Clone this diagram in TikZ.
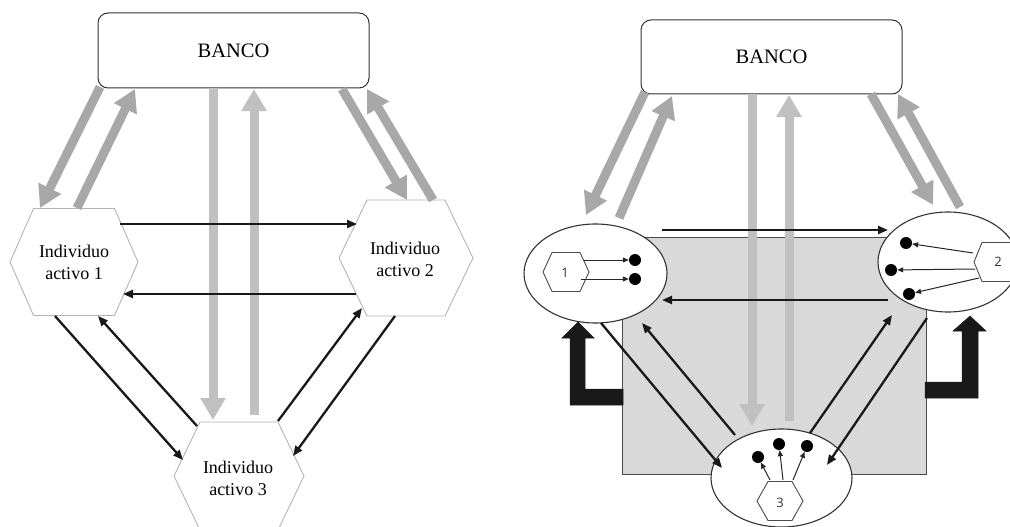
\documentclass[tikz,border=0pt]{standalone}
\usepackage{fontspec}
\setmainfont{Liberation Serif}
\newfontfamily\numfont{Open Sans}
\usetikzlibrary{arrows.meta,shapes.geometric}
\definecolor{gD}{HTML}{A8A8A8}
\definecolor{gL}{HTML}{C0C0C0}
\definecolor{rectfill}{HTML}{D9D9D9}
\definecolor{hexgray}{HTML}{B4B4B4}
\definecolor{edge}{HTML}{333333}
\newcommand\hexshape[6]{\draw[#6] (#1,#2) +(-#3,0) -- +(-#4,-#5) -- +(#4,-#5) -- +(#3,0) -- +(#4,#5) -- +(-#4,#5) -- cycle;}
\begin{document}
\begin{tikzpicture}[x=1pt,y=-1pt,
  gdark/.style={line width=9pt,draw=gD,-{Triangle[length=22pt,width=24pt]}},
  glight/.style={line width=9pt,draw=gL,-{Triangle[length=22pt,width=24pt]}},
  barrow/.style={line width=2.3pt,draw=black!90,-{Triangle[length=10pt,width=8pt]}},
  sarrow/.style={line width=1pt,draw=black!85,-{Triangle[length=6pt,width=5pt]}},
  bankbox/.style={draw=edge,line width=1pt,rounded corners=10pt,fill=white,font=\fontsize{20.5}{24}\selectfont},
  hexlabel/.style={inner sep=0pt,align=center,font=\fontsize{18}{22}\selectfont},
  bighex/.style={draw=hexgray,line width=0.9pt,fill=white},
  smallhex/.style={draw=black!70,line width=0.9pt,fill=white},
  oval/.style={ellipse,draw=edge,line width=1.1pt,fill=white,inner sep=0pt},
  dot/.style={circle,fill=black,inner sep=0pt,minimum size=12pt},
  numlabel/.style={inner sep=0pt,font=\numfont\fontsize{13}{15}\selectfont,text=black!80},
  bigL/.style={fill=black!90,draw=black!90,line width=0.5pt}]
\useasboundingbox (0,0) rectangle (1010,527);
\fill[white] (0,0) rectangle (1010,527);

% ================= LEFT DIAGRAM =================
\node[bankbox,minimum width=271pt,minimum height=75pt] (banL) at (233.5,50.5) {BANCO};
\hexshape{74}{262}{64}{40.5}{53.5}{bighex}
\hexshape{406}{258}{67}{39}{58}{bighex}
\hexshape{239}{476}{65}{39}{54}{bighex}
\node[hexlabel] (h1) at (74,262.5) {Individuo\\activo 1};
\node[hexlabel] (h2) at (405,259.5) {Individuo\\activo 2};
\node[hexlabel] (h3) at (238,478) {Individuo\\activo 3};

% gray flows with the bank
\coordinate (la1) at (100,87);  \coordinate (la2) at (40,208);
\coordinate (lb1) at (77,208);  \coordinate (lb2) at (135,89);
\coordinate (lc1) at (213,88);  \coordinate (lc2) at (213,420);
\coordinate (ld1) at (254,415); \coordinate (ld2) at (254,89);
\coordinate (le1) at (342,89);  \coordinate (le2) at (407,200);
\coordinate (lf1) at (433,200); \coordinate (lf2) at (367,89);
\draw[gdark] (la1) -- (la2);
\draw[gdark] (lb1) -- (lb2);
\draw[glight] (lc1) -- (lc2);
\draw[glight] (ld1) -- (ld2);
\draw[gdark] (le1) -- (le2);
\draw[gdark] (lf1) -- (lf2);

% black flows between individuals
\coordinate (lg1) at (120,224); \coordinate (lg2) at (357,224);
\coordinate (lh1) at (356,294); \coordinate (lh2) at (123,294);
\coordinate (li1) at (55,316);  \coordinate (li2) at (183,460);
\coordinate (lj1) at (197,426); \coordinate (lj2) at (98,316);
\coordinate (lk1) at (278,421); \coordinate (lk2) at (362,308);
\coordinate (ll1) at (395,316); \coordinate (ll2) at (293,456);
\draw[barrow] (lg1) -- (lg2);
\draw[barrow] (lh1) -- (lh2);
\draw[barrow] (li1) -- (li2);
\draw[barrow] (lj1) -- (lj2);
\draw[barrow] (lk1) -- (lk2);
\draw[barrow] (ll1) -- (ll2);

% ================= RIGHT DIAGRAM =================
\draw[draw=black!70,line width=1pt,fill=rectfill] (622,237) rectangle (926,474);
% big L arrows
\fill[bigL] (623,389) -- (585,389) -- (585,338) -- (594,338) -- (578,322) -- (562,338) -- (570,338) -- (570,405) -- (623,405) -- cycle;
\fill[bigL] (925,382) -- (962,382) -- (962,331) -- (953,331) -- (970,316) -- (986,331) -- (978,331) -- (978,398) -- (925,398) -- cycle;

\node[bankbox,minimum width=261pt,minimum height=74pt] (banR) at (771.5,57) {BANCO};
\node[oval,minimum width=143pt,minimum height=99pt] (e1) at (595.5,273.5) {};
\node[oval,minimum width=140pt,minimum height=100pt] (e2) at (948,262) {};
\node[oval,minimum width=141pt,minimum height=98pt] (e3) at (781.5,478) {};

\hexshape{566}{272}{23}{14}{19.5}{smallhex}
\hexshape{997}{262}{23}{15}{19.5}{smallhex}
\hexshape{780}{501}{23}{12}{19.5}{smallhex}
\node[numlabel] (n1) at (565,273) {1};
\node[numlabel] (n2) at (998,262) {2};
\node[numlabel] (n3) at (780,503) {3};

\node[dot] (d11) at (635,260) {};
\node[dot] (d12) at (635,279) {};
\node[dot] (d21) at (906,243) {};
\node[dot] (d22) at (891,270) {};
\node[dot] (d23) at (909,294) {};
\node[dot] (d31) at (758,457) {};
\node[dot] (d32) at (779,444) {};
\node[dot] (d33) at (807,446) {};
\coordinate (s11) at (584,260); \coordinate (s12) at (581,279);
\coordinate (s21) at (973,253); \coordinate (s22) at (975,269); \coordinate (s23) at (979,278);
\coordinate (s31) at (770,480); \coordinate (s32) at (783,480); \coordinate (s33) at (793,480);
\draw[sarrow] (s11) -- (d11);
\draw[sarrow] (s12) -- (d12);
\draw[sarrow] (s21) -- (d21);
\draw[sarrow] (s22) -- (d22);
\draw[sarrow] (s23) -- (d23);
\draw[sarrow] (s31) -- (d31);
\draw[sarrow] (s32) -- (d32);
\draw[sarrow] (s33) -- (d33);

% gray flows with the bank
\coordinate (ra1) at (645,92);  \coordinate (ra2) at (586,215);
\coordinate (rb1) at (619,218); \coordinate (rb2) at (672,96);
\coordinate (rc1) at (752,94);  \coordinate (rc2) at (752,426);
\coordinate (rd1) at (789,421); \coordinate (rd2) at (789,95);
\coordinate (re1) at (871,94);  \coordinate (re2) at (933,205);
\coordinate (rf1) at (960,207); \coordinate (rf2) at (898,94);
\draw[gdark] (ra1) -- (ra2);
\draw[gdark] (rb1) -- (rb2);
\draw[glight] (rc1) -- (rc2);
\draw[glight] (rd1) -- (rd2);
\draw[gdark] (re1) -- (re2);
\draw[gdark] (rf1) -- (rf2);

% black flows between individuals
\coordinate (rg1) at (662,230); \coordinate (rg2) at (888,230);
\coordinate (rh1) at (888,300); \coordinate (rh2) at (662,300);
\coordinate (ri1) at (601,323); \coordinate (ri2) at (722,468);
\coordinate (rj1) at (735,435); \coordinate (rj2) at (642,323);
\coordinate (rk1) at (810,433); \coordinate (rk2) at (892,315);
\coordinate (rl1) at (927,318); \coordinate (rl2) at (827,465);
\draw[barrow] (rg1) -- (rg2);
\draw[barrow] (rh1) -- (rh2);
\draw[barrow] (ri1) -- (ri2);
\draw[barrow] (rj1) -- (rj2);
\draw[barrow] (rk1) -- (rk2);
\draw[barrow] (rl1) -- (rl2);
\end{tikzpicture}
\end{document}
